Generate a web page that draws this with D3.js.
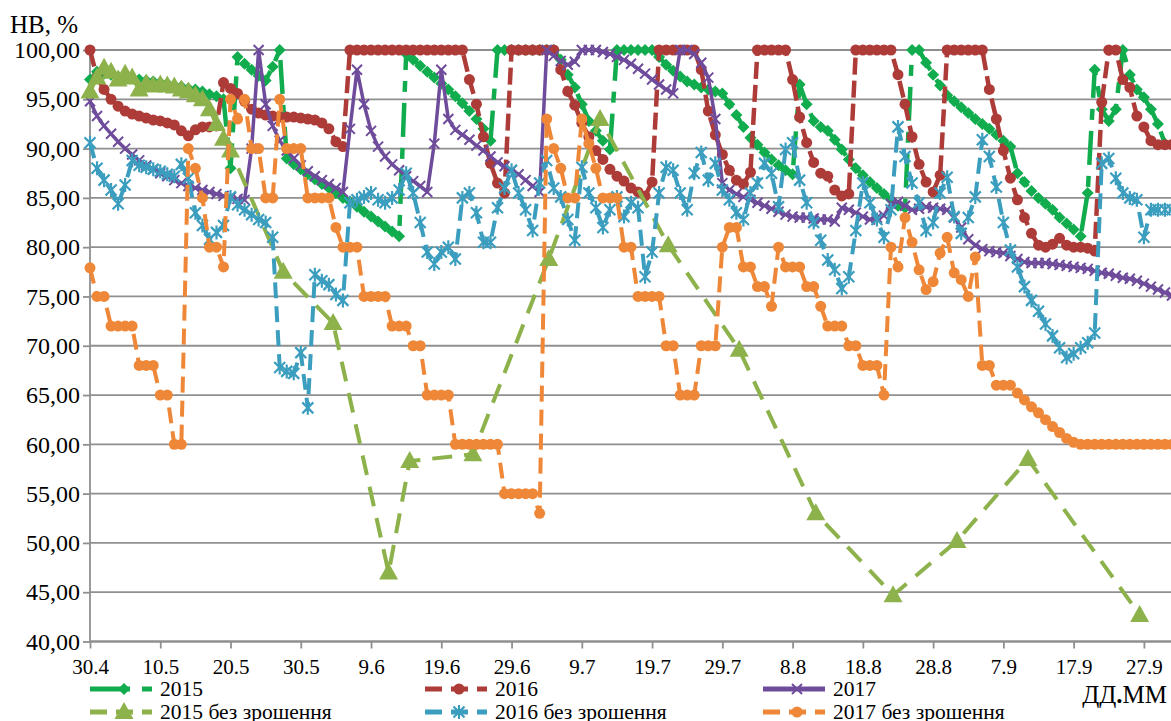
<!DOCTYPE html>
<html><head><meta charset="utf-8">
<script src="https://cdn.jsdelivr.net/npm/d3@7"></script>
<style>body{margin:0;background:#fff}svg{display:block}</style>
</head><body>
<svg id="c" width="1171" height="721"></svg>
<script>
// ---------- data ----------
const xTickLabels = ["30.4","10.5","20.5","30.5","9.6","19.6","29.6","9.7","19.7","29.7","8.8","18.8","28.8","7.9","17.9","27.9"];
const xTickDays = [0,10,20,30,40,50,60,70,80,90,100,110,120,130,140,150];
const yTicks = [40,45,50,55,60,65,70,75,80,85,90,95,100];

// daily values, day 0 = 30.4
const hb2015 = [97.0,97.8,97.6,97.5,97.3,97.2,97.1,97.0,96.9,96.8,
 96.7,96.6,96.4,96.3,96.1,96.0,95.8,95.5,95.3,95.0,
 88.0,99.3,98.6,98.0,97.4,96.9,98.3,100,89.0,88.4,
 87.9,87.4,86.9,86.4,86.0,85.5,85.0,84.6,84.1,83.6,
 83.1,82.6,82.1,81.6,81.1,99.6,99.0,98.4,97.8,97.2,
 96.6,96.0,95.3,94.6,93.8,93.0,92.0,90.8,100,100,
 100,100,100,100,100,100,100,99.0,97.5,96.2,
 94.5,92.8,91.8,90.8,89.9,100,100,100,100,100,
 100,99.3,98.5,97.9,97.3,96.8,96.5,96.2,96.0,95.8,
 95.6,94.5,93.4,92.2,91.1,90.4,89.6,88.9,88.3,87.8,
 87.4,96.5,94.5,92.8,92.2,91.8,90.9,89.9,88.9,88.0,
 87.3,86.6,86.0,85.4,84.8,84.2,84.0,100,100,98.7,
 97.5,96.4,95.4,94.8,94.2,93.6,93.0,92.5,92.0,91.4,
 90.8,90.2,87.5,86.6,85.7,85.0,84.4,83.8,83.0,82.4,
 81.8,81.1,85.5,98.0,94.0,92.8,94.0,100,97.5,96.0,
 95.2,94.0,92.5,90.5];

const hb2016 = [100,97.2,96.0,95.0,94.3,93.8,93.5,93.3,93.1,92.9,
 92.8,92.6,92.4,91.8,91.3,91.9,92.2,92.2,92.3,96.7,
 96.1,95.6,94.8,94.0,93.6,93.4,93.3,93.2,93.2,93.2,
 93.1,93.0,92.9,92.6,92.0,90.7,90.2,100,100,100,
 100,100,100,100,100,100,100,100,100,100,
 100,100,100,100,97.0,94.5,91.2,88.5,86.5,85.5,
 100,100,100,100,100,100,100,98.0,95.8,94.4,
 92.6,91.2,89.8,88.9,87.9,87.2,86.7,86.0,85.6,85.2,
 86.6,100,100,100,100,100,100,98.0,93.8,91.4,
 89.4,87.8,86.8,86.4,87.6,100,100,100,100,100,
 97.0,93.2,90.6,88.6,87.5,87.2,85.8,85.2,85.4,100,
 100,100,100,100,100,97.5,94.5,91.2,88.4,86.6,
 85.6,87.3,100,100,100,100,100,100,96.0,93.0,
 89.8,87.0,84.8,83.0,81.4,80.2,80.0,80.3,80.9,80.2,
 80.0,80.0,79.9,79.6,94.7,100,100,97.0,96.2,93.3,
 92.2,90.8,90.4,90.4,90.4];

const hb2017 = [94.8,93.3,92.3,91.5,90.7,90.0,89.4,88.8,88.3,87.9,
 87.5,87.2,86.8,86.5,86.2,86.0,85.8,85.6,85.4,85.2,
 85.0,84.9,84.8,90.0,100,94.5,92.3,90.8,89.8,89.0,
 88.3,87.7,87.2,86.8,86.4,86.0,85.6,92.0,98.0,94.5,
 91.8,90.2,89.2,88.4,87.8,87.2,86.7,86.2,85.6,90.5,
 98.0,93.0,91.9,91.4,90.9,90.3,89.8,89.2,88.6,88.2,
 87.8,87.4,86.8,86.2,85.6,100,99.4,98.9,98.5,98.8,
 100,100,100,99.8,99.6,99.3,99.0,98.6,98.1,97.6,
 97.0,96.5,96.0,95.6,100,100,99.6,98.7,97.2,93.0,
 86.5,85.8,85.4,85.1,84.8,84.5,84.2,83.9,83.6,83.3,
 83.1,83.0,83.0,82.9,82.8,82.8,82.6,84.0,83.8,83.5,
 83.1,82.8,83.0,83.2,84.4,84.6,84.2,83.8,83.9,84.1,
 84.0,83.9,83.8,83.0,82.0,80.8,80.2,79.8,79.6,79.5,
 79.4,79.1,78.8,78.5,78.4,78.4,78.4,78.3,78.2,78.1,
 78.0,77.9,77.8,77.6,77.4,77.3,77.1,76.9,76.8,76.6,
 76.3,76.0,75.7,75.4,75.1];

// 2015 без зрошення: measured days and values
const dryDays2015 = [0,1,2,3,4,5,6,7,8,9,10,11,12,13,14,15,16,17,18,19,20,
 27.5,34.6,42.5,45.5,54.5,65.3,72.6,82.3,92.4,103.3,114.3,123.4,133.5,149.4];
const dry2015 = [95.8,97.2,98.2,97.8,97.0,97.6,97.2,96.0,96.6,96.4,96.5,96.4,96.3,96.0,95.8,95.4,95.0,94.0,92.5,91.0,89.8,
 77.5,72.3,47.0,58.3,59.0,78.8,93.0,80.2,69.6,53.0,44.7,50.2,58.5,42.7];

const dry2016 = [90.6,88.0,86.8,85.8,84.4,86.3,88.8,88.3,88.1,87.9,
 87.7,87.4,87.2,88.4,87.0,83.5,82.2,80.8,81.5,82.2,
 85.1,84.3,83.8,83.3,82.8,82.5,81.0,67.8,67.4,67.2,
 69.3,63.7,77.2,76.6,76.2,75.2,74.6,84.5,84.8,85.1,
 85.5,84.8,84.5,85.0,85.8,87.5,85.5,82.5,79.5,78.3,
 79.5,80.0,78.8,85.0,85.5,83.5,80.5,80.5,84.0,86.0,
 87.8,85.5,83.8,81.7,86.5,88.8,86.0,85.1,82.8,80.7,
 88.1,85.5,84.0,82.0,83.8,85.1,83.1,84.5,84.0,77.0,
 79.5,85.5,88.1,87.8,85.5,83.8,87.5,89.6,86.8,88.5,
 85.8,84.8,83.5,82.8,85.5,86.5,88.5,87.5,84.1,89.9,
 90.6,86.8,84.5,82.5,80.7,78.7,77.7,75.8,77.0,81.7,
 86.5,84.5,82.8,81.0,83.8,92.2,89.2,86.5,84.5,81.7,
 82.5,85.5,87.1,83.1,81.4,83.0,85.1,90.9,89.2,86.1,
 82.5,79.7,78.0,76.0,74.6,73.5,72.2,71.0,69.8,68.8,
 69.2,69.8,70.3,71.3,88.5,89.0,87.0,85.5,85.0,84.8,
 81.0,83.8,83.8,83.8,83.8];

const dry2017 = [77.9,75.0,75.0,72.0,72.0,72.0,72.0,68.0,68.0,68.0,
 65.0,65.0,60.0,60.0,90.0,88.0,85.0,80.0,80.0,78.0,
 95.0,93.0,95.0,90.0,90.0,85.0,85.0,95.0,90.0,90.0,
 90.0,85.0,85.0,85.0,85.0,82.0,80.0,80.0,80.0,75.0,
 75.0,75.0,75.0,72.0,72.0,72.0,70.0,70.0,65.0,65.0,
 65.0,65.0,60.0,60.0,60.0,60.0,60.0,60.0,60.0,55.0,
 55.0,55.0,55.0,55.0,53.0,93.0,90.0,88.0,85.0,85.0,
 93.0,90.5,88.0,85.0,85.0,85.0,80.0,80.0,75.0,75.0,
 75.0,75.0,70.0,70.0,65.0,65.0,65.0,70.0,70.0,70.0,
 80.0,82.0,82.0,78.0,78.0,76.0,76.0,74.0,80.0,78.0,
 78.0,78.0,76.0,76.0,74.0,72.0,72.0,72.0,70.0,70.0,
 68.0,68.0,68.0,65.0,80.0,78.0,83.0,80.5,77.7,75.7,
 76.5,79.4,81.0,77.4,76.7,75.0,79.0,68.0,68.0,66.0,
 66.0,66.0,65.2,64.5,63.8,63.2,62.5,61.8,61.2,60.6,
 60.2,60.0,60.0,60.0,60.0,60.0,60.0,60.0,60.0,60.0,
 60.0,60.0,60.0,60.0,60.0];

const seriesNames = ["2015","2016","2017","2015 без зрошення","2016 без зрошення","2017 без зрошення"];

// ---------- chart ----------
const svg = d3.select("#c");
const FONT = "'Liberation Serif','Times New Roman',serif";
const x = d3.scaleLinear().domain([0,154]).range([90,1172]);
const y = d3.scaleLinear().domain([40,100]).range([641.5,50]);

const daily = arr => arr.map((v,i)=>[i,v]);
const series = [
 {name:seriesNames[0], pts:daily(hb2015), color:"#10AC4E", dash:"34,11,11,11", w:4.5, mk:"diamond"},
 {name:seriesNames[1], pts:daily(hb2016), color:"#AD3B38", dash:"17,6", w:4.5, mk:"circle"},
 {name:seriesNames[2], pts:daily(hb2017), color:"#6F4C9B", dash:null, w:3.5, mk:"x"},
 {name:seriesNames[3], pts:dryDays2015.map((d,i)=>[d,dry2015[i]]), color:"#8DB24B", dash:"20,12", w:4, mk:"tri"},
 {name:seriesNames[4], pts:daily(dry2016), color:"#3C9EBF", dash:"16,8", w:4, mk:"star"},
 {name:seriesNames[5], pts:daily(dry2017), color:"#EE8838", dash:"16,8", w:4, mk:"circle"}
];

// grid
const grid = svg.append("g");
yTicks.forEach(v=>{
  grid.append("line").attr("x1",90).attr("x2",1171).attr("y1",y(v)).attr("y2",y(v))
    .attr("stroke","#8f8f8f").attr("stroke-width",1.8);
});

// axes
const xAxis = svg.append("g").attr("transform",`translate(0,${y(40)})`)
  .call(d3.axisBottom(x).tickValues(xTickDays).tickFormat((d,i)=>xTickLabels[i]).tickSize(7).tickPadding(11));
xAxis.select(".domain").attr("stroke","#8f8f8f").attr("stroke-width",1.8).attr("d",`M90,0H1171`);
xAxis.selectAll(".tick line").attr("stroke","#8f8f8f").attr("stroke-width",1.8);
xAxis.selectAll("text").attr("font-family",FONT).attr("font-size",21).attr("fill","#000");

const yAxis = svg.append("g").attr("transform","translate(90,0)")
  .call(d3.axisLeft(y).tickValues(yTicks).tickFormat(d=>d.toFixed(2).replace(".",",")).tickSize(7).tickPadding(3));
yAxis.select(".domain").attr("stroke","#8f8f8f").attr("stroke-width",1.8).attr("d",`M0,${y(40)}V${y(100)}`);
yAxis.selectAll(".tick line").attr("stroke","#8f8f8f").attr("stroke-width",1.8);
yAxis.selectAll("text").attr("font-family",FONT).attr("font-size",24).attr("fill","#000");

// markers
function drawMarker(g, type, color, cx, cy){
  if(type==="circle"){
    g.append("circle").attr("cx",cx).attr("cy",cy).attr("r",5.5).attr("fill",color);
  } else if(type==="diamond"){
    g.append("path").attr("d",`M${cx},${cy-6}L${cx+6},${cy}L${cx},${cy+6}L${cx-6},${cy}Z`).attr("fill",color);
  } else if(type==="tri"){
    g.append("path").attr("d",`M${cx},${cy-10}L${cx+9.5},${cy+7}L${cx-9.5},${cy+7}Z`).attr("fill",color);
  } else if(type==="x"){
    g.append("path").attr("d",`M${cx-5},${cy-5}L${cx+5},${cy+5}M${cx-5},${cy+5}L${cx+5},${cy-5}`)
      .attr("stroke",color).attr("stroke-width",2).attr("fill","none");
  } else if(type==="star"){
    g.append("path").attr("d",`M${cx-5.5},${cy-5.5}L${cx+5.5},${cy+5.5}M${cx-5.5},${cy+5.5}L${cx+5.5},${cy-5.5}M${cx},${cy-7}L${cx},${cy+7}`)
      .attr("stroke",color).attr("stroke-width",2.2).attr("fill","none");
  }
}

const line = d3.line().x(d=>x(d[0])).y(d=>y(d[1]));
const plot = svg.append("g");
series.forEach(s=>{
  const g = plot.append("g");
  g.append("path").attr("d",line(s.pts)).attr("fill","none").attr("stroke",s.color)
    .attr("stroke-width",s.w).attr("stroke-dasharray",s.dash).attr("stroke-linejoin","round");
  s.pts.forEach(p=>drawMarker(g,s.mk,s.color,x(p[0]),y(p[1])));
});

// title
svg.append("text").attr("x",10).attr("y",33).attr("font-family",FONT).attr("font-size",25).text("НВ, %");

// legend
const colX = [90,425,763], rowY = [689,712];
series.forEach((s,i)=>{
  const cx0 = colX[i%3], cy0 = rowY[Math.floor(i/3)];
  const g = svg.append("g");
  g.append("line").attr("x1",cx0).attr("x2",cx0+62).attr("y1",cy0).attr("y2",cy0)
    .attr("stroke",s.color).attr("stroke-width",5).attr("stroke-dasharray",s.dash ? (i===0?"40,12,10,12":"17,9") : null);
  drawMarker(g,s.mk,s.color,cx0+34,cy0);
  g.append("text").attr("x",cx0+70).attr("y",cy0+7).attr("font-family",FONT).attr("font-size",21.5).text(s.name);
});

// axis title
const xt = svg.append("text").attr("x",1167).attr("y",703).attr("text-anchor","end")
  .attr("font-family",FONT).attr("font-size",25);
xt.append("tspan").text("ДД");
xt.append("tspan").attr("font-weight","bold").text(".");
xt.append("tspan").text("ММ");
</script>
</body></html>
